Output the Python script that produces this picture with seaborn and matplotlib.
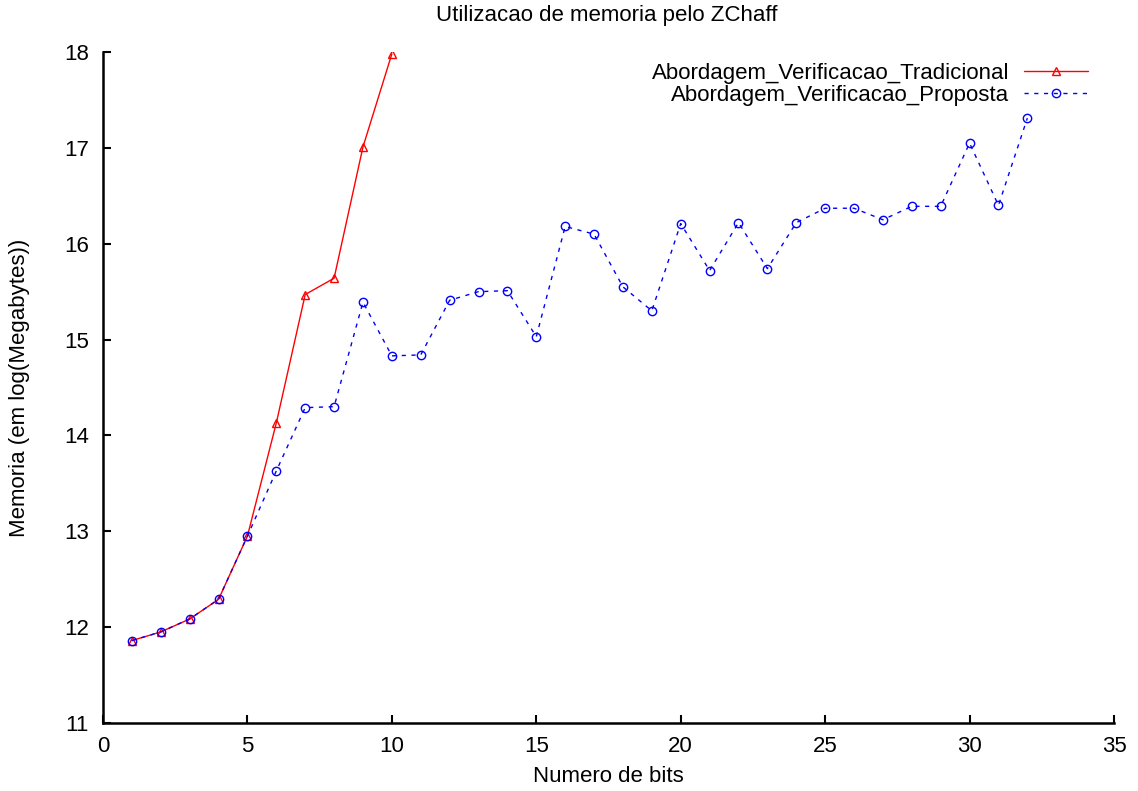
import matplotlib
matplotlib.use("Agg")
import matplotlib.pyplot as plt
import seaborn as sns
import pandas as pd

bits_trad = [1, 2, 3, 4, 5, 6, 7, 8, 9, 10]
mem_trad = [11.86, 11.95, 12.085, 12.29, 12.95, 14.13, 15.47, 15.64, 17.01, 17.98]

bits_prop = list(range(1, 33))
mem_prop = [11.86, 11.95, 12.085, 12.29, 12.95, 13.63, 14.29, 14.30, 15.39, 14.83,
            14.84, 15.41, 15.50, 15.51, 15.03, 16.18, 16.10, 15.55, 15.30, 16.21,
            15.72, 16.22, 15.74, 16.22, 16.37, 16.37, 16.25, 16.39, 16.39, 17.05,
            16.40, 17.31]

label_trad = "Abordagem_Verificacao_Tradicional"
label_prop = "Abordagem_Verificacao_Proposta"

sns.set_style("ticks")
plt.rcParams['font.family'] = ['Liberation Sans', 'DejaVu Sans']
plt.rcParams['text.color'] = 'black'
plt.rcParams['axes.labelcolor'] = 'black'

W, H = 1138, 791
fig = plt.figure(figsize=(W / 100, H / 100), dpi=100)
ax = fig.add_axes([103 / W, (H - 723) / H, (1114 - 103) / W, (723 - 52) / H])

df_t = pd.DataFrame({"x": bits_trad, "y": mem_trad})
df_p = pd.DataFrame({"x": bits_prop, "y": mem_prop})

sns.lineplot(data=df_t, x="x", y="y", ax=ax, color="#ff0000", linewidth=1.0,
             marker="^", markersize=5.5, markerfacecolor="none", markeredgecolor="#ff0000",
             markeredgewidth=1.0, label=label_trad)
sns.lineplot(data=df_p, x="x", y="y", ax=ax, color="#0000ff", linewidth=1.0,
             linestyle=(0, (3, 4)), marker="o", markersize=6, markerfacecolor="none",
             markeredgecolor="#0000ff", markeredgewidth=1.0, label=label_prop)

ax.set_xlim(0, 35)
ax.set_ylim(11, 18)
ax.set_xticks(range(0, 36, 5))
ax.set_yticks(range(11, 19))
ax.tick_params(direction="in", length=6, width=1.5, labelsize=16, colors="black")
ax.tick_params(axis="y", pad=10)
ax.tick_params(axis="x", pad=9)
for s in ["top", "right"]:
    ax.spines[s].set_visible(False)
for s in ["left", "bottom"]:
    ax.spines[s].set_linewidth(1.8)
    ax.spines[s].set_color("black")

ax.set_xlabel("Numero de bits", fontsize=16)
ax.set_ylabel("Memoria (em log(Megabytes))", fontsize=16)
ax.xaxis.set_label_coords(0.5, (723 - 777) / 671, transform=ax.transAxes)
ax.yaxis.set_label_coords((20 - 103) / 1011, 0.5, transform=ax.transAxes)
ax.xaxis.label.set_va("center")
ax.yaxis.label.set_va("center")
fig.text(607 / W, 1 - 15 / H, "Utilizacao de memoria pelo ZChaff", fontsize=16,
         ha="center", va="center")

leg = ax.legend(loc="upper right", bbox_to_anchor=(1088 / W, 1 - 63 / H),
                bbox_transform=fig.transFigure, frameon=False,
                fontsize=16, markerfirst=False, handlelength=2.9, handletextpad=0.65,
                labelspacing=0.05, borderaxespad=0.0, borderpad=0.0)
for t in leg.get_texts():
    t.set_ha("right")
leg._legend_box.align = "right"

fig.savefig("out.png", dpi=100)
